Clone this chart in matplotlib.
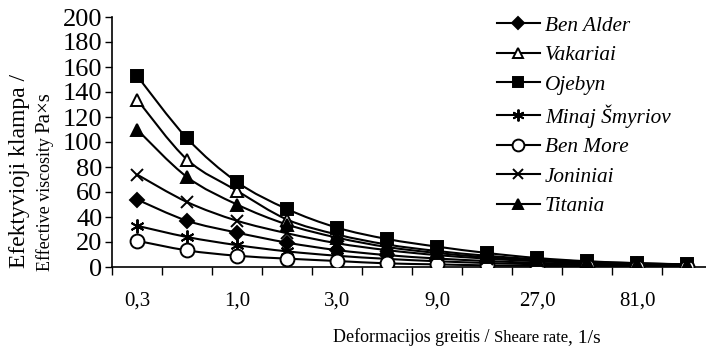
import numpy as np
import matplotlib
matplotlib.use('Agg')
from matplotlib import pyplot as plt
from matplotlib.path import Path
from matplotlib.patches import PathPatch
from matplotlib.lines import Line2D

# shear rate categories (every second one is labelled)
rates = ['0,3', '0,5', '1,0', '1,7', '3,0', '5,0', '9,0', '15,0', '27,0', '45,0', '81,0', '135,0']

ben_alder = [54, 37, 27.5, 19.5, 13.5, 9.5, 6.8, 4.8, 3.3, 2.3, 1.6, 1.1]
vakariai = [134, 86, 61, 38, 26, 18, 12.8, 9.0, 6.2, 4.3, 3.0, 2.0]
ojebyn = [153, 103, 68, 46.4, 31.5, 22.4, 16.3, 11.2, 7.2, 4.6, 3.1, 2.1]
minaj = [33, 24, 17.5, 12.5, 9.0, 6.5, 4.6, 3.2, 2.2, 1.5, 1.0, 0.7]
ben_more = [21, 13.3, 9.0, 6.7, 4.8, 2.9, 2.1, 1.3, 0.9, 0.6, 0.4, 0.3]
joniniai = [74, 52, 37, 27, 19, 13.5, 9.5, 6.7, 4.6, 3.2, 2.2, 1.5]
titania = [110, 72, 50, 34, 23.5, 16, 11.2, 7.8, 5.4, 3.7, 2.6, 1.8]

names = ['Ben Alder', 'Vakariai', 'Ojebyn', 'Minaj Šmyriov', 'Ben More', 'Joniniai', 'Titania']
series = [ben_alder, vakariai, ojebyn, minaj, ben_more, joniniai, titania]
markers = ['D', '^', 's', (6, 2, 0), 'o', 'x', '^']
faces = ['black', 'white', 'black', 'black', 'white', 'black', 'black']
msizes = [7, 9, 9, 10, 10, 9, 9]

plt.rcParams['font.family'] = ['Liberation Serif', 'DejaVu Serif']

fig = plt.figure(figsize=(7.06, 3.47), dpi=100)
ax = fig.add_axes([112 / 706, 80 / 347, 600 / 706, 250 / 347])


def smooth_path(xs, ys):
    # bezier through the points, excel-like smoothing
    pts = np.column_stack([xs, ys]).astype(float)
    verts = [pts[0]]
    codes = [Path.MOVETO]
    n = len(pts)
    for i in range(n - 1):
        p0 = pts[i - 1] if i > 0 else pts[i]
        p1 = pts[i]
        p2 = pts[i + 1]
        p3 = pts[i + 2] if i + 2 < n else pts[i + 1]
        c1 = p1 + (p2 - p0) / 6.0
        c2 = p2 - (p3 - p1) / 6.0
        verts += [c1, c2, p2]
        codes += [Path.CURVE4] * 3
    return Path(verts, codes)


x = np.arange(len(rates))
handles = []
for vals, name, m, fc, ms in zip(series, names, markers, faces, msizes):
    ax.add_patch(PathPatch(smooth_path(x, vals), fill=False, ec='black', lw=1.5, zorder=2))
    ax.plot(x, vals, linestyle='none', marker=m, ms=ms, mfc=fc, mec='black', mew=1.4, zorder=3)
    handles.append(Line2D([], [], color='black', lw=1.5, marker=m, ms=ms * 0.85,
                          mfc=fc, mec='black', mew=1.4))

ax.set_xlim(-0.5, len(rates) - 0.5)
ax.set_ylim(0, 200)
ax.set_yticks(np.arange(0, 201, 20))
ax.tick_params(axis='y', labelsize=19, direction='out', length=5, width=1, pad=2)

ax.set_xticks(x[::2])
ax.set_xticklabels(rates[::2])
ax.set_xticks(np.arange(-0.5, len(rates), 1), minor=True)
ax.tick_params(axis='x', which='major', length=0, labelsize=15, pad=18)
ax.tick_params(axis='x', which='minor', length=6, width=1, direction='out')

for s in ['top', 'right']:
    ax.spines[s].set_visible(False)
for s in ['left', 'bottom']:
    ax.spines[s].set_linewidth(1.2)

leg = fig.legend(handles, names, loc='upper left', bbox_to_anchor=(497 / 706, 1 - 16 / 347),
                 frameon=False, prop={'style': 'italic', 'size': 15.3},
                 handlelength=2.0, handletextpad=0.25, labelspacing=0.45,
                 borderaxespad=0, borderpad=0)

# y label, two lines
fig.text(20 / 706, (347 - 268) / 347, 'Efektyvioji klampa /', rotation=90, ha='center', va='bottom',
         fontsize=17)
t1 = fig.text(45 / 706, 76 / 347, 'Effective viscosity ', rotation=90, ha='center', va='bottom', fontsize=13)
ax.annotate('Pa×s', xy=(0.5, 1), xycoords=t1, rotation=90, ha='center', va='bottom', fontsize=15,
            annotation_clip=False)

# x label, mixed sizes
t2 = fig.text(333 / 706, 5 / 347, 'Deformacijos greitis / ', ha='left', va='baseline', fontsize=13)
t3 = ax.annotate('Sheare rate', xy=(1, 0), xycoords=t2, ha='left', va='bottom', fontsize=12,
                 annotation_clip=False)
ax.annotate(', 1/s', xy=(1, 0), xycoords=t3, ha='left', va='bottom', fontsize=14,
            annotation_clip=False)

fig.savefig('out.png', dpi=100)
